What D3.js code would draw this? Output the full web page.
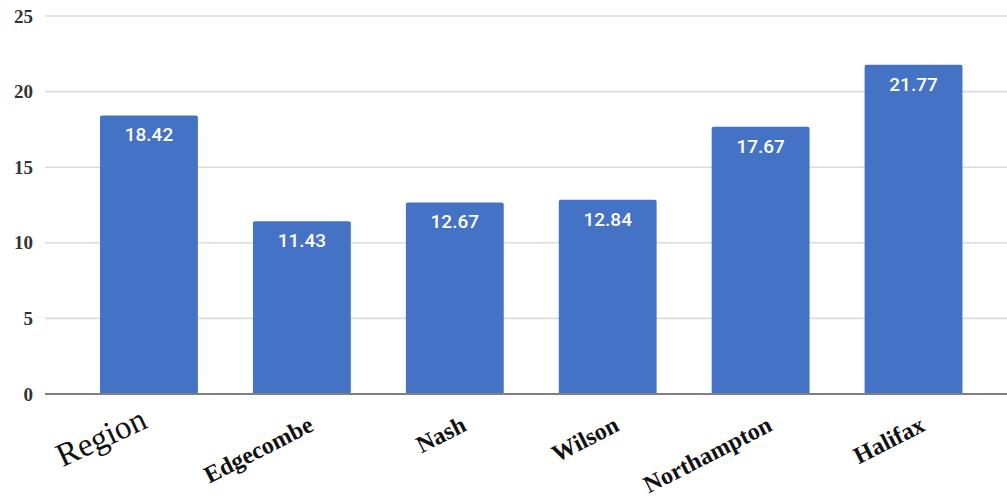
<!DOCTYPE html>
<html><head><meta charset="utf-8">
<script src="https://cdn.jsdelivr.net/npm/d3@7"></script>
<style>body{margin:0;background:#fff;}svg{display:block;}</style>
</head><body>
<svg id="c" width="1007" height="503"></svg>
<script>
const categories = ["Region","Edgecombe","Nash","Wilson","Northampton","Halifax"];
const values = [18.42, 11.43, 12.67, 12.84, 17.67, 21.77];
const yTicks = [0, 5, 10, 15, 20, 25];

const svg = d3.select("#c");
const y = d3.scaleLinear().domain([0, 25]).range([394, 16]);
const x = d3.scaleBand().domain(categories).range([72.5, 990]).paddingInner(0.36).paddingOuter(0.18);

// gridlines
svg.append("g").selectAll("line").data(yTicks).join("line")
  .attr("x1", 45).attr("x2", 1007)
  .attr("y1", d => y(d)).attr("y2", d => y(d))
  .attr("stroke", d => d === 0 ? "#7f7f7f" : "#dcdcdc")
  .attr("stroke-width", d => d === 0 ? 2.2 : 1.6);

// y tick labels
svg.append("g").selectAll("text").data(yTicks).join("text")
  .attr("x", 33).attr("y", d => y(d)).attr("dy", "0.35em")
  .attr("text-anchor", "end")
  .attr("font-family", "Liberation Serif, Times New Roman, serif")
  .attr("font-weight", "bold").attr("font-size", 19).attr("fill", "#333")
  .text(d => d);

// bars
svg.append("g").selectAll("path").data(values).join("path")
  .attr("fill", "#4472c4")
  .attr("d", (d, i) => {
    const x0 = x(categories[i]), w = x.bandwidth(), t = y(d), b = y(0) - 1, r = 2;
    return `M${x0},${b}V${t + r}Q${x0},${t} ${x0 + r},${t}H${x0 + w - r}Q${x0 + w},${t} ${x0 + w},${t + r}V${b}Z`;
  });

// value labels
svg.append("g").selectAll("text").data(values).join("text")
  .attr("x", (d, i) => x(categories[i]) + x.bandwidth() / 2)
  .attr("y", d => y(d) + 26)
  .attr("text-anchor", "middle")
  .attr("font-family", "Roboto, sans-serif").attr("font-weight", 500)
  .attr("font-size", 19).attr("fill", "#fff")
  .text(d => d.toFixed(2));

// x labels
svg.append("g").selectAll("text").data(categories).join("text")
  .attr("text-anchor", "end")
  .attr("font-family", "Liberation Serif, Times New Roman, serif")
  .attr("font-weight", (d, i) => i === 0 ? "normal" : "bold")
  .attr("font-size", (d, i) => i === 0 ? 33 : 24)
  .attr("fill", "#111")
  .attr("transform", (d, i) => {
    const cx = x(d) + x.bandwidth() / 2;
    return i === 0 ? `translate(${cx},${427}) rotate(-25)` : `translate(${cx + 13},${430}) rotate(-27)`;
  })
  .text(d => d);
</script>
</body></html>
